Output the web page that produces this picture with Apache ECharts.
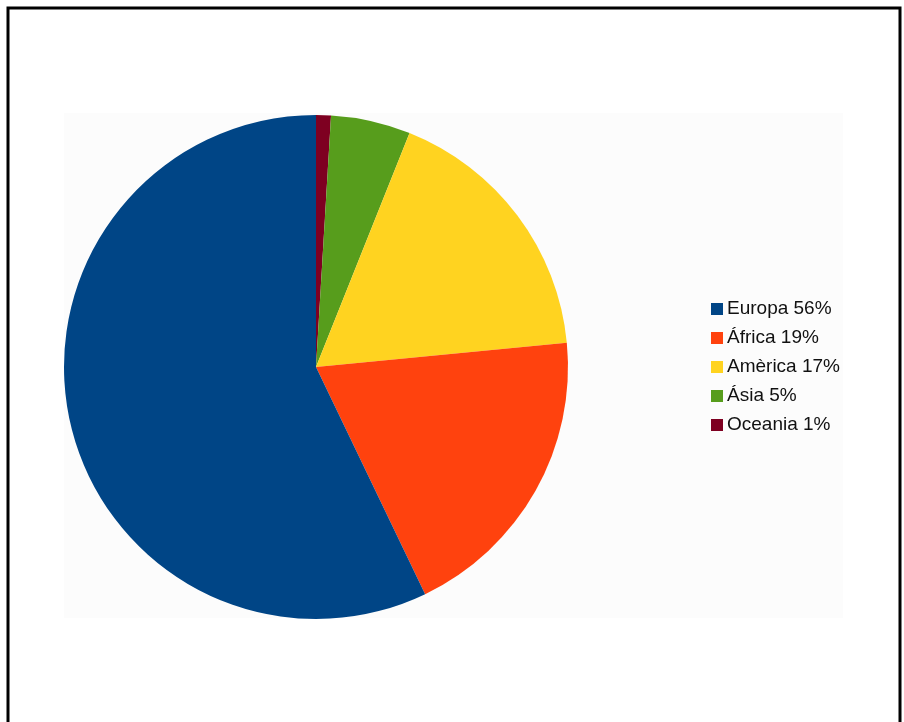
<!DOCTYPE html>
<html>
<head>
<meta charset="utf-8">
<script src="https://cdn.jsdelivr.net/npm/echarts@6/dist/echarts.min.js"></script>
<style>html,body{margin:0;padding:0;background:#fff}#c{width:904px;height:722px}</style>
</head>
<body>
<div id="c"></div>
<script>
// Slices in clockwise drawing order from 12 o'clock
const categories = ['Oceania 1%', 'Ásia 5%', 'Amèrica 17%', 'África 19%', 'Europa 56%'];
const values = [0.95, 5.1, 17.4, 19.4, 57.1];
const colors = ['#7e0021', '#579d1c', '#ffd320', '#ff420e', '#004586'];
// Legend order as in the reference
const legendOrder = ['Europa 56%', 'África 19%', 'Amèrica 17%', 'Ásia 5%', 'Oceania 1%'];

const chart = echarts.init(document.getElementById('c'), null, {renderer: 'canvas'});
chart.setOption({
  animation: false,
  backgroundColor: '#ffffff',
  graphic: [
    {type: 'rect', shape: {x: 64, y: 113, width: 779, height: 505}, style: {fill: '#fcfcfc'}, z: -10},
    {type: 'rect', shape: {x: 8, y: 8, width: 892, height: 730}, style: {fill: 'none', stroke: '#000', lineWidth: 3}, z: 10}
  ],
  legend: {
    orient: 'vertical',
    left: 706,
    top: 294,
    data: legendOrder,
    icon: 'rect',
    itemWidth: 12,
    itemHeight: 12,
    itemGap: 9,
    textStyle: {fontFamily: 'Liberation Sans', fontSize: 19, color: '#111', padding: [0, 0, 0, -1], lineHeight: 20},
    selectedMode: false
  },
  series: [{
    type: 'pie',
    center: [316, 367],
    radius: [0, 252],
    startAngle: 90,
    clockwise: true,
    label: {show: false},
    labelLine: {show: false},
    itemStyle: {borderWidth: 0},
    emphasis: {disabled: true},
    data: categories.map((n, i) => ({name: n, value: values[i], itemStyle: {color: colors[i]}}))
  }]
});
</script>
</body>
</html>
